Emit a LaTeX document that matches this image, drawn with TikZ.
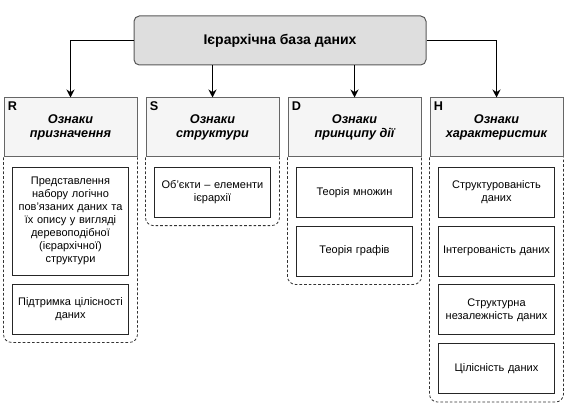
\documentclass[tikz,border=0pt]{standalone}
\usepackage{fontspec}
\setmainfont{Liberation Sans}
\usetikzlibrary{
    arrows.meta, % for the arrow tips
    positioning % for placing nodes relative to other nodes
}

\begin{document}
\begin{tikzpicture}[
    x=0.75pt,y=-0.75pt,node distance=6pt,>={Stealth[length=6pt,width=6pt]},
    every node/.style = {align=center},
    title/.style      = {draw=black!65,line width=0.75pt,rounded corners=4pt,fill=black!13,
                         minimum width=219pt,minimum height=36.75pt,font=\fontsize{10.5}{12}\selectfont\bfseries},
    header/.style     = {draw=black!60,line width=0.75pt,fill=black!4,inner sep=2pt,
                         minimum width=99.75pt,minimum height=44.25pt,font=\fontsize{9.5}{10.5}\selectfont\bfseries\itshape},
    item/.style       = {draw=black!85,line width=0.6pt,fill=white,inner sep=2pt,text width=83pt,
                         minimum height=37.5pt,font=\fontsize{8.25}{9.75}\selectfont},
    group/.style      = {draw=black!80,line width=0.6pt,dash pattern=on 2pt off 1.5pt,rounded corners=6pt},
    link/.style       = {->,line width=1.1pt},
    tag/.style        = {label={[font=\fontsize{9.5}{10.5}\selectfont\upshape\bfseries,inner sep=3pt,
                         anchor=north west]north west:#1}}
]

\useasboundingbox (0,0) rectangle (566,413);

% root of the hierarchy

    \node [title] (top) at (280,40.5) {Ієрархічна база даних};

% four groups of features

    \node [header,tag=R] (r) at (70.5,127.5)  {Ознаки\\призначення};
    \node [header,tag=S] (s) [right=of r]     {Ознаки\\структури};
    \node [header,tag=D] (d) [right=of s]     {Ознаки\\принципу дії};
    \node [header,tag=H] (h) [right=of d]     {Ознаки\\характеристик};

    \draw [link] (top.west) -| (r.north);
    \draw [link] (top.south -| s.north) -- (s.north);
    \draw [link] (top.south -| d.north) -- (d.north);
    \draw [link] (top.east) -| (h.north);

% contents of the groups

    \node [item,minimum height=81pt] (r1) [below=7pt of r] {Представлення\\набору логічно\\пов'язаних даних та\\їх опису у вигляді\\деревоподібної\\(ієрархічної)\\структури};
    \node [item] (r2) [below=of r1]      {Підтримка цілісності\\даних};

    \node [item] (s1) [below=7pt of s]   {Об'єкти – елементи\\ієрархії};

    \node [item] (d1) [below=7pt of d]   {Теорія множин};
    \node [item] (d2) [below=of d1]      {Теорія графів};

    \node [item] (h1) [below=7pt of h]   {Структурованість\\даних};
    \node [item] (h2) [below=of h1]      {Інтегрованість даних};
    \node [item] (h3) [below=of h2]      {Структурна\\незалежність даних};
    \node [item] (h4) [below=of h3]      {Цілісність даних};

% dashed frames below the headers

    \draw [group] (r.south west) |- ([yshift=-6pt]r2.south) -| (r.south east);
    \draw [group] (s.south west) |- ([yshift=-6pt]s1.south) -| (s.south east);
    \draw [group] (d.south west) |- ([yshift=-6pt]d2.south) -| (d.south east);
    \draw [group] (h.south west) |- ([yshift=-6pt]h4.south) -| (h.south east);

\end{tikzpicture}
\end{document}
